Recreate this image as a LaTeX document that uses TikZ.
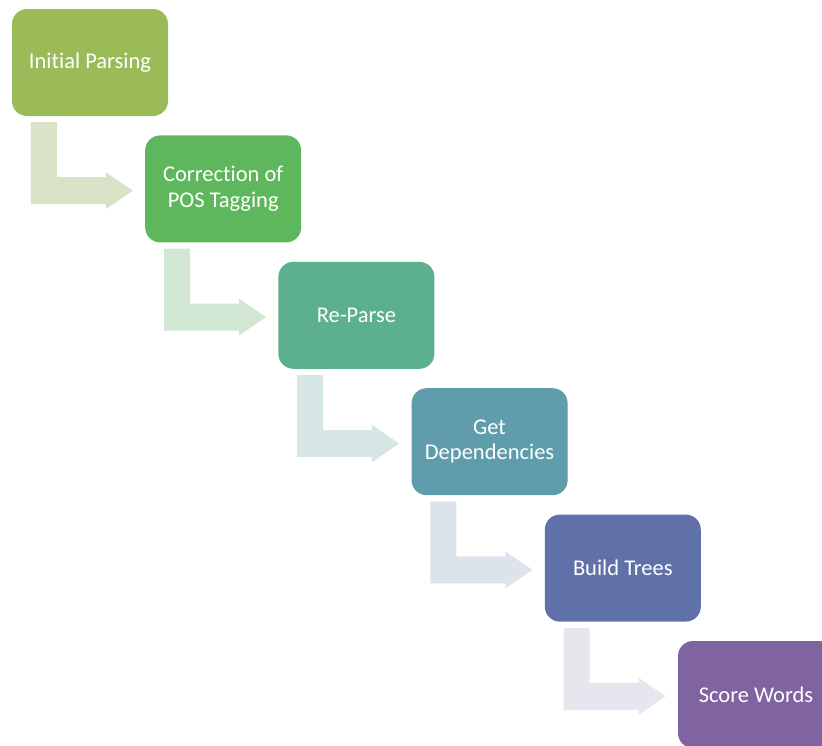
\documentclass[tikz,border=0pt]{standalone}
\usepackage{fontspec}
\setmainfont{Carlito}[Ligatures=NoCommon]
\usetikzlibrary{positioning}

\definecolor{stepA}{HTML}{9BBB59}
\definecolor{stepB}{HTML}{5EB75C}
\definecolor{stepC}{HTML}{5DB08D}
\definecolor{stepD}{HTML}{5F9CAC}
\definecolor{stepE}{HTML}{6070A8}
\definecolor{stepF}{HTML}{8064A2}
\definecolor{arrA}{HTML}{D7E2C6}
\definecolor{arrB}{HTML}{D1E6D3}
\definecolor{arrC}{HTML}{D6E6E4}
\definecolor{arrD}{HTML}{DDE3EA}
\definecolor{arrE}{HTML}{E8E5EE}

\tikzset{
    stepbox/.style={rectangle, rounded corners=15pt, minimum width=156pt,
        minimum height=107pt, inner sep=2pt, align=center, text=white,
        font=\fontsize{22.5}{25.5}\selectfont},
}

\begin{document}
\begin{tikzpicture}[x=1pt, y=-1pt]
    % Frame
    \useasboundingbox (0,0) rectangle (822,745);
    \clip (0,0) rectangle (822,745);

    % Steps
    \foreach \i/\lbl/\col in {0/{Initial Parsing}/stepA,
                              1/{Correction of\\POS Tagging}/stepB,
                              2/{Re-Parse}/stepC,
                              3/{Get\\Dependencies}/stepD,
                              4/{Build Trees}/stepE,
                              5/{Score Words}/stepF} {
        \node[stepbox, fill=\col] (s\i) at ({90+133.2*\i},{62.5+126.4*\i}) {\lbl};
    }

    % Bent arrows
    \foreach \i/\col in {0/arrA,1/arrB,2/arrC,3/arrD,4/arrE} {
        \fill[\col] ([shift={(19,6)}]s\i.south west) -- ([shift={(45,6)}]s\i.south west)
            -- ([shift={(45,61)}]s\i.south west) -- ([shift={(94,61)}]s\i.south west)
            -- ([shift={(94,56)}]s\i.south west) -- ([shift={(121,74.5)}]s\i.south west)
            -- ([shift={(94,93)}]s\i.south west) -- ([shift={(94,88)}]s\i.south west)
            -- ([shift={(19,88)}]s\i.south west) -- cycle;
    }
\end{tikzpicture}
\end{document}
